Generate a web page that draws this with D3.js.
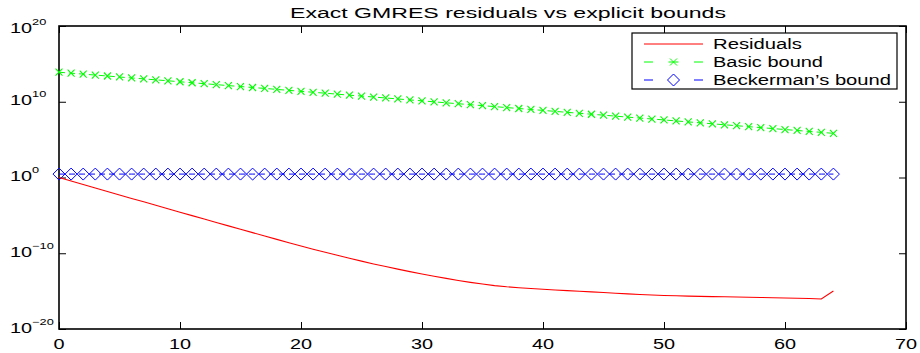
<!DOCTYPE html>
<html><head><meta charset="utf-8">
<script src="https://cdn.jsdelivr.net/npm/d3@7/dist/d3.min.js"></script>
<style>
body{margin:0;background:#fff;}
text{font-family:"Liberation Sans",Arial,Helvetica,sans-serif;}
</style></head><body>
<svg id="c" width="920" height="353"></svg>
<script>
const title = "Exact GMRES residuals vs explicit bounds";
const seriesNames = ["Residuals", "Basic bound", "Beckerman\u2019s bound"];
const iterations = d3.range(0, 65);
// log10 of the values
const residualsLog = [0,-0.46,-0.92,-1.38,-1.84,-2.30,-2.76,-3.21,-3.67,-4.12,-4.58,-5.03,-5.49,-5.94,-6.39,-6.84,-7.28,-7.73,-8.17,-8.61,-9.04,-9.46,-9.87,-10.27,-10.66,-11.04,-11.41,-11.76,-12.10,-12.43,-12.74,-13.04,-13.32,-13.59,-13.84,-14.07,-14.27,-14.43,-14.55,-14.66,-14.76,-14.85,-14.94,-15.02,-15.10,-15.19,-15.28,-15.36,-15.44,-15.51,-15.58,-15.62,-15.66,-15.69,-15.72,-15.75,-15.78,-15.81,-15.84,-15.87,-15.90,-15.94,-15.98,-16.03,-14.98];
const basicLog = [13.90,13.77,13.65,13.52,13.40,13.27,13.14,13.02,12.89,12.77,12.64,12.51,12.39,12.26,12.13,12.01,11.88,11.76,11.63,11.50,11.38,11.25,11.13,11.00,10.87,10.75,10.62,10.50,10.37,10.24,10.12,9.99,9.86,9.74,9.61,9.49,9.36,9.23,9.11,8.98,8.86,8.73,8.60,8.48,8.35,8.23,8.10,7.97,7.85,7.72,7.60,7.47,7.34,7.22,7.09,6.96,6.84,6.71,6.59,6.46,6.33,6.21,6.08,5.96,5.83];
const beckermanLog = [0.45,0.45,0.45,0.45,0.45,0.45,0.45,0.45,0.45,0.45,0.45,0.45,0.45,0.45,0.45,0.45,0.45,0.45,0.45,0.45,0.45,0.45,0.45,0.45,0.45,0.45,0.45,0.45,0.45,0.45,0.45,0.45,0.45,0.45,0.45,0.45,0.45,0.45,0.45,0.45,0.45,0.45,0.45,0.45,0.45,0.45,0.45,0.45,0.45,0.45,0.45,0.45,0.45,0.45,0.45,0.45,0.45,0.45,0.45,0.45,0.45,0.45,0.45,0.45,0.45];
const xTicks = [0,10,20,30,40,50,60,70];
const yTickExps = [-20,-10,0,10,20];

const svg = d3.select("#c");
const L = 59, R = 906, T = 26, B = 329;
const x = d3.scaleLinear().domain([0,70]).range([L,R]);
const y = d3.scaleLog().domain([1e-20,1e20]).range([B,T]);
const SX = 1.42; // horizontal stretch of the lettering in the reference

function stretched(parent, px, py, anchor, sx){
  return parent.append("g").attr("transform",`translate(${px},${py}) scale(${sx},1)`)
    .append("text").attr("x",0).attr("y",0).attr("text-anchor",anchor)
    .attr("font-size",14).attr("fill","#000");
}

// axes ticks (inside)
const tl = 7;
const gx = svg.append("g").attr("transform",`translate(0,${B})`)
  .call(d3.axisBottom(x).tickValues(xTicks).tickSize(-tl).tickFormat(""));
gx.select(".domain").remove();
gx.selectAll("line").attr("stroke","#000");
const gxt = svg.append("g").attr("transform",`translate(0,${T})`)
  .call(d3.axisTop(x).tickValues(xTicks).tickSize(-tl).tickFormat(""));
gxt.select(".domain").remove();
gxt.selectAll("line").attr("stroke","#000");

const yVals = yTickExps.map(e => Math.pow(10,e));
const gy = svg.append("g").attr("transform",`translate(${L},0)`)
  .call(d3.axisLeft(y).tickValues(yVals).tickSize(-tl).tickFormat(""));
gy.select(".domain").remove();
gy.selectAll("line").attr("stroke","#000");
const gyr = svg.append("g").attr("transform",`translate(${R},0)`)
  .call(d3.axisRight(y).tickValues(yVals).tickSize(-tl).tickFormat(""));
gyr.select(".domain").remove();
gyr.selectAll("line").attr("stroke","#000");

// x tick labels
xTicks.forEach(v => {
  stretched(svg, x(v), 348.5, "middle", SX).text(String(v));
});
// y tick labels with superscripts
yTickExps.forEach(e => {
  const off = e === 20 ? 7 : 3.5;
  const t = stretched(svg, 10, y(Math.pow(10,e))+off, "start", SX);
  t.append("tspan").text("10");
  t.append("tspan").attr("dy",-8).attr("font-size",9).text(e<0 ? "\u2212"+(-e) : String(e));
});

// frame
svg.append("rect").attr("x",L).attr("y",T).attr("width",R-L).attr("height",B-T)
  .attr("fill","none").attr("stroke","#000").attr("stroke-width",1.6);

// title
svg.append("text").attr("x",290).attr("y",18.3).attr("text-anchor","start")
  .attr("font-size",14).attr("fill","#000")
  .attr("textLength",436).attr("lengthAdjust","spacingAndGlyphs").text(title);

const plot = svg.append("g");
const line = d3.line().x(d=>x(d[0])).y(d=>y(Math.pow(10,d[1])));
const resData = iterations.map((k,i)=>[k,residualsLog[i]]);
const basicData = iterations.map((k,i)=>[k,basicLog[i]]);
const beckData = iterations.map((k,i)=>[k,beckermanLog[i]]);

plot.append("path").datum(beckData).attr("d",line).attr("fill","none")
  .attr("stroke","#0000ff").attr("stroke-width",1).attr("stroke-dasharray","6,4");
const diamond = "M0,-6L6,0L0,6L-6,0Z";
plot.selectAll(".dm").data(beckData).enter().append("path")
  .attr("d",diamond).attr("transform",d=>`translate(${x(d[0])},${y(Math.pow(10,d[1]))})`)
  .attr("fill","none").attr("stroke","#0000ff").attr("stroke-width",1);

plot.append("path").datum(basicData).attr("d",line).attr("fill","none")
  .attr("stroke","#00ff00").attr("stroke-width",1).attr("stroke-dasharray","6,4");
const xm = "M-3.5,-3.5L3.5,3.5M-3.5,3.5L3.5,-3.5";
plot.selectAll(".xm").data(basicData).enter().append("path")
  .attr("d",xm).attr("transform",d=>`translate(${x(d[0])},${y(Math.pow(10,d[1]))})`)
  .attr("fill","none").attr("stroke","#00ff00").attr("stroke-width",1.1);

plot.append("path").datum(resData).attr("d",line).attr("fill","none")
  .attr("stroke","#ff0000").attr("stroke-width",1.1);

// legend
const lg = svg.append("g");
lg.append("rect").attr("x",632).attr("y",33).attr("width",265).attr("height",56)
  .attr("fill","#fff").attr("stroke","#000").attr("stroke-width",1.2);
const rows = [44, 62, 80];
const colors = ["#ff0000","#00ff00","#0000ff"];
const lx1 = 644, lx2 = 703, lm = 673.5;
lg.append("line").attr("x1",lx1).attr("x2",lx2).attr("y1",rows[0]).attr("y2",rows[0]).attr("stroke",colors[0]);
[1,2].forEach(i=>{
  lg.append("line").attr("x1",lx1).attr("x2",lx1+9).attr("y1",rows[i]).attr("y2",rows[i]).attr("stroke",colors[i]);
  lg.append("line").attr("x1",lx2-9).attr("x2",lx2).attr("y1",rows[i]).attr("y2",rows[i]).attr("stroke",colors[i]);
});
lg.append("line").attr("x1",lm-5).attr("x2",lm+5).attr("y1",rows[1]).attr("y2",rows[1]).attr("stroke",colors[1]);
lg.append("path").attr("d",xm).attr("transform",`translate(${lm},${rows[1]})`).attr("fill","none").attr("stroke",colors[1]);
lg.append("path").attr("d",diamond).attr("transform",`translate(${lm},${rows[2]})`).attr("fill","none").attr("stroke",colors[2]);
const legendWidths = [89, 110, 178];
seriesNames.forEach((n,i)=>{
  lg.append("text").attr("x",713).attr("y",rows[i]+5).attr("font-size",14).attr("fill","#000")
    .attr("textLength",legendWidths[i]).attr("lengthAdjust","spacingAndGlyphs").text(n);
});
</script>
</body></html>
